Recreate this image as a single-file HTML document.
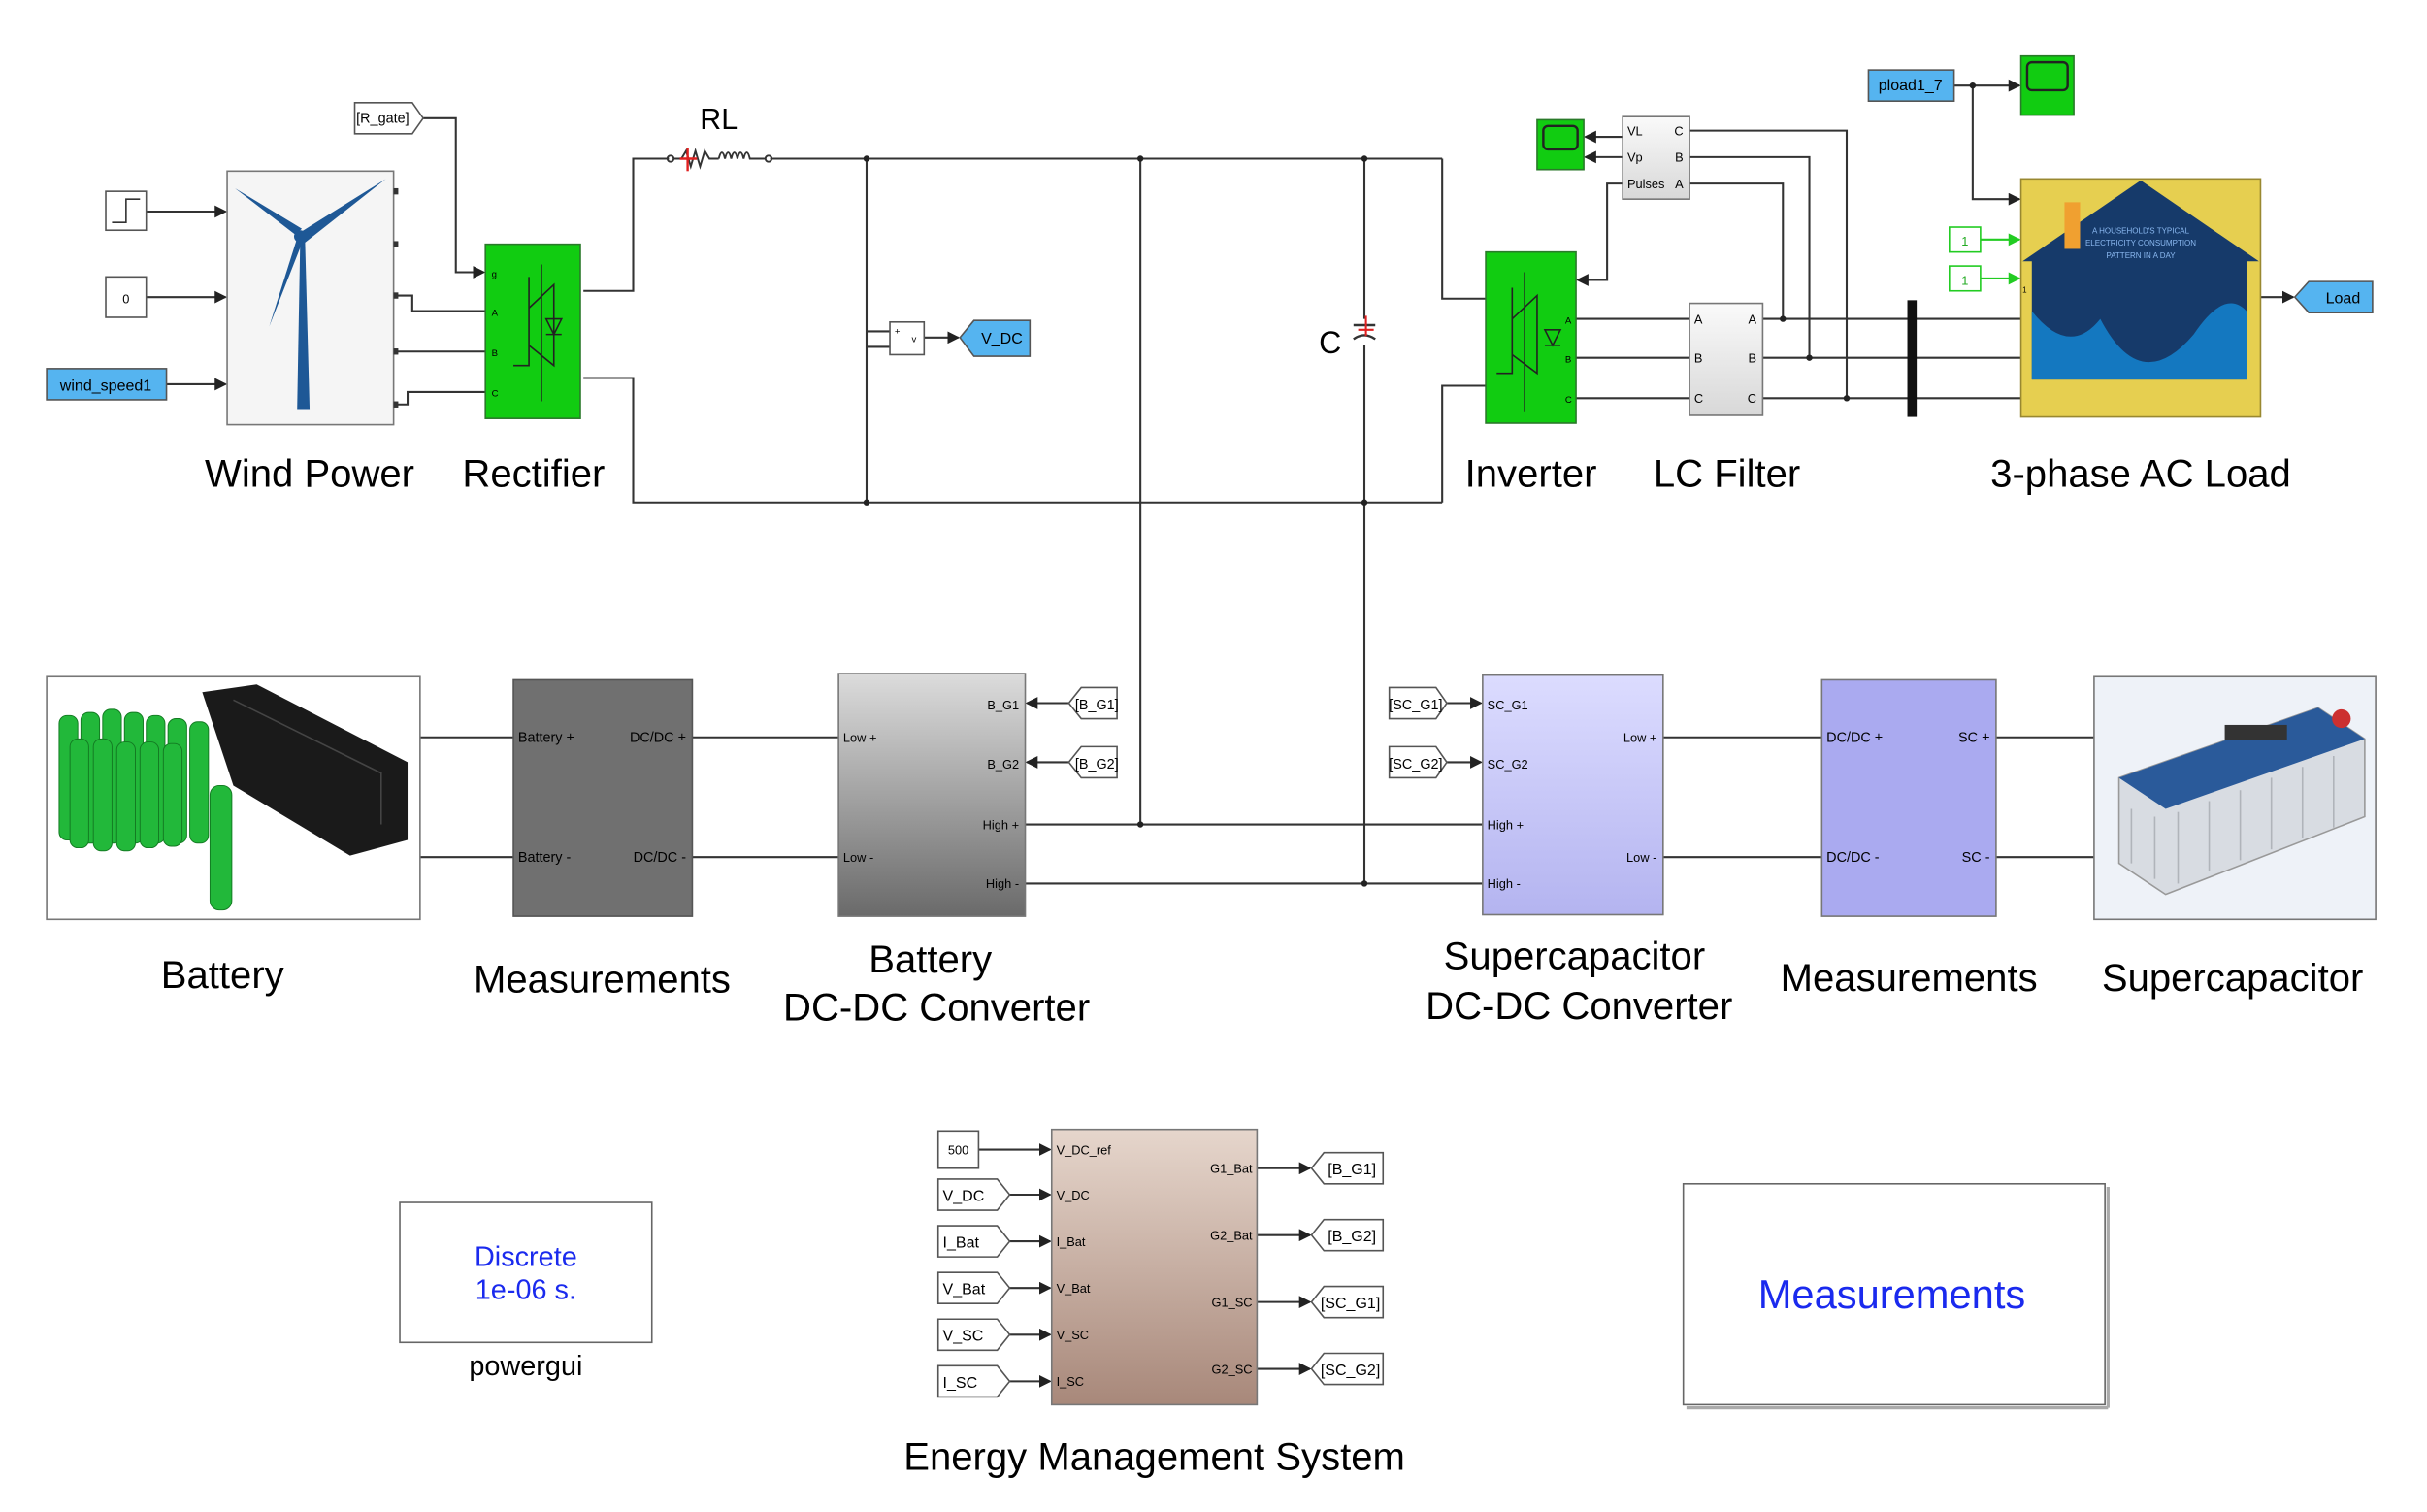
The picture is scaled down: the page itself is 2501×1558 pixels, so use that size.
<!DOCTYPE html>
<html><head><meta charset="utf-8"><style>
html,body{margin:0;padding:0;background:#fff;}
svg{display:block;}
text{font-family:"Liberation Sans",sans-serif;}
</style></head><body>
<svg width="2501" height="1558" viewBox="0 0 1560 972" preserveAspectRatio="none" xmlns="http://www.w3.org/2000/svg">
<defs>
<marker id="ar" markerWidth="8" markerHeight="8" refX="7" refY="4" orient="auto" markerUnits="userSpaceOnUse"><path d="M0,0 L8,4 L0,8 z" fill="#222"/></marker>
<marker id="arg" markerWidth="8" markerHeight="8" refX="7" refY="4" orient="auto" markerUnits="userSpaceOnUse"><path d="M0,0 L8,4 L0,8 z" fill="#22cc22"/></marker>
<linearGradient id="gBat" x1="0" y1="0" x2="0" y2="1"><stop offset="0" stop-color="#dcdcdc"/><stop offset="1" stop-color="#6a6a6a"/></linearGradient>
<linearGradient id="gSC" x1="0" y1="0" x2="0" y2="1"><stop offset="0" stop-color="#dcdcff"/><stop offset="1" stop-color="#b4b4f0"/></linearGradient>
<linearGradient id="gEMS" x1="0" y1="0" x2="0" y2="1"><stop offset="0" stop-color="#e6d6cc"/><stop offset="1" stop-color="#a8887a"/></linearGradient>
<linearGradient id="gLC" x1="0" y1="0" x2="0" y2="1"><stop offset="0" stop-color="#fafafa"/><stop offset="1" stop-color="#d8d8d8"/></linearGradient>
</defs>
<g stroke="#333" stroke-width="1.3" fill="none">
<!-- top inputs -->
<line x1="94" y1="136" x2="145" y2="136" marker-end="url(#ar)"/>
<line x1="94" y1="191" x2="145" y2="191" marker-end="url(#ar)"/>
<line x1="107" y1="247" x2="145" y2="247" marker-end="url(#ar)"/>
<polyline points="272,76 293,76 293,175 311,175" marker-end="url(#ar)"/>
<polyline points="255,190 265,190 265,200 312,200"/>
<line x1="255" y1="226" x2="312" y2="226"/>
<polyline points="255,260 262,260 262,252 312,252"/>
<polyline points="375,187 407,187 407,102 430,102"/>
<line x1="495" y1="102" x2="927" y2="102"/>
<polyline points="375,243 407,243 407,323 927,323"/>
<polyline points="927,102 927,192 955,192"/>
<polyline points="927,323 927,248 955,248"/>
<line x1="557" y1="102" x2="557" y2="323"/>
<polyline points="557,213 572,213"/>
<polyline points="557,223 572,223"/>
<line x1="594" y1="217" x2="616" y2="217" marker-end="url(#ar)"/>
<line x1="877" y1="102" x2="877" y2="205"/>
<line x1="877" y1="222" x2="877" y2="568"/>
<line x1="733" y1="102" x2="733" y2="530"/>
<!-- inverter / filter -->
<polyline points="1043,118 1033,118 1033,180 1014,180" marker-end="url(#ar)"/>
<line x1="1043" y1="88" x2="1019" y2="88" marker-end="url(#ar)"/>
<line x1="1043" y1="101" x2="1019" y2="101" marker-end="url(#ar)"/>
<line x1="1013" y1="205" x2="1086" y2="205"/>
<line x1="1013" y1="230" x2="1086" y2="230"/>
<line x1="1013" y1="256" x2="1086" y2="256"/>
<line x1="1133" y1="205" x2="1299" y2="205"/>
<line x1="1133" y1="230" x2="1299" y2="230"/>
<line x1="1133" y1="256" x2="1299" y2="256"/>
<polyline points="1086,84 1187,84 1187,256"/>
<polyline points="1086,101 1163,101 1163,230"/>
<polyline points="1086,118 1146,118 1146,205"/>
<line x1="1256" y1="55" x2="1298" y2="55" marker-end="url(#ar)"/>
<polyline points="1268,55 1268,128 1298,128" marker-end="url(#ar)"/>
<line x1="1453" y1="191" x2="1474" y2="191" marker-end="url(#ar)"/>
<!-- middle -->
<line x1="270" y1="474" x2="330" y2="474"/>
<line x1="270" y1="551" x2="330" y2="551"/>
<line x1="445" y1="474" x2="539" y2="474"/>
<line x1="445" y1="551" x2="539" y2="551"/>
<line x1="687" y1="452" x2="660" y2="452" marker-end="url(#ar)"/>
<line x1="687" y1="490" x2="660" y2="490" marker-end="url(#ar)"/>
<line x1="659" y1="530" x2="953" y2="530"/>
<line x1="659" y1="568" x2="953" y2="568"/>
<line x1="930" y1="452" x2="952" y2="452" marker-end="url(#ar)"/>
<line x1="930" y1="490" x2="952" y2="490" marker-end="url(#ar)"/>
<line x1="1069" y1="474" x2="1171" y2="474"/>
<line x1="1069" y1="551" x2="1171" y2="551"/>
<line x1="1283" y1="474" x2="1346" y2="474"/>
<line x1="1283" y1="551" x2="1346" y2="551"/>
<!-- EMS -->
<line x1="629" y1="739" x2="675" y2="739" marker-end="url(#ar)"/>
<line x1="649" y1="768" x2="675" y2="768" marker-end="url(#ar)"/>
<line x1="649" y1="798" x2="675" y2="798" marker-end="url(#ar)"/>
<line x1="649" y1="828" x2="675" y2="828" marker-end="url(#ar)"/>
<line x1="649" y1="858" x2="675" y2="858" marker-end="url(#ar)"/>
<line x1="649" y1="888" x2="675" y2="888" marker-end="url(#ar)"/>
<line x1="808" y1="751" x2="842" y2="751" marker-end="url(#ar)"/>
<line x1="808" y1="794" x2="842" y2="794" marker-end="url(#ar)"/>
<line x1="808" y1="837" x2="842" y2="837" marker-end="url(#ar)"/>
<line x1="808" y1="880" x2="842" y2="880" marker-end="url(#ar)"/>
</g>
<g stroke="#22cc22" stroke-width="1.3">
<line x1="1273" y1="154" x2="1298" y2="154" marker-end="url(#arg)"/>
<line x1="1273" y1="179" x2="1298" y2="179" marker-end="url(#arg)"/>
</g>
<!-- junction dots -->
<g fill="#222">
<circle cx="557" cy="102" r="2"/><circle cx="733" cy="102" r="2"/><circle cx="877" cy="102" r="2"/>
<circle cx="557" cy="323" r="2"/><circle cx="877" cy="323" r="2"/>
<circle cx="733" cy="530" r="2"/><circle cx="877" cy="568" r="2"/>
<circle cx="1146" cy="205" r="2"/><circle cx="1163" cy="230" r="2"/><circle cx="1187" cy="256" r="2"/>
<circle cx="1268" cy="55" r="2"/>
</g>
<!-- RL -->
<g stroke="#333" stroke-width="1.2" fill="none">
<circle cx="431" cy="102" r="2"/><circle cx="494" cy="102" r="2"/>
<polyline points="433,102 438,102 441,97 444,107 447,97 450,107 453,97 456,102 462,102"/>
<path d="M462,102 q2,-8 4,0 q2,-8 4,0 q2,-8 4,0 q2,-8 4,0 q2,-8 4,0 l10,0"/>
</g>
<line x1="442" y1="95" x2="442" y2="110" stroke="#e02020" stroke-width="1.5"/>
<line x1="437" y1="102" x2="448" y2="102" stroke="#e02020" stroke-width="1.5"/>
<text x="462" y="83" font-size="19" text-anchor="middle">RL</text>
<!-- capacitor -->
<g stroke="#333" stroke-width="1.5"><line x1="870" y1="209" x2="884" y2="209"/></g>
<path d="M870,218 q7,-5 14,0" stroke="#333" stroke-width="1.5" fill="none"/>
<line x1="878" y1="203" x2="878" y2="216" stroke="#e02020" stroke-width="1.3"/>
<line x1="873" y1="212" x2="883" y2="212" stroke="#e02020" stroke-width="1.3"/>
<text x="855" y="227" font-size="20" text-anchor="middle">C</text>
<!-- step / const -->
<rect x="68" y="123" width="26" height="25" fill="#fff" stroke="#555"/>
<polyline points="72,143 81,143 81,128 90,128" stroke="#333" fill="none"/>
<rect x="68" y="178" width="26" height="26" fill="#fff" stroke="#555"/>
<text x="81" y="195" font-size="8" text-anchor="middle">0</text>
<rect x="30" y="237" width="77" height="20" fill="#55b4f0" stroke="#555"/>
<text x="68" y="251" font-size="10" text-anchor="middle">wind_speed1</text>
<!-- wind turbine -->
<rect x="146" y="110" width="107" height="163" fill="#f5f5f5" stroke="#777"/>
<g fill="#1e5896">
<path d="M193,152 L191,263 L199,263 L196,152 z"/>
<path d="M192,150 L248,115 L196,156 z"/>
<path d="M190,151 L151,121 L194,147 z"/>
<path d="M191,153 L173,210 L195,154 z"/>
<circle cx="193" cy="152" r="4"/>
</g>
<g fill="#333"><rect x="253" y="121" width="3" height="4"/><rect x="253" y="155" width="3" height="4"/><rect x="253" y="188" width="3" height="4"/><rect x="253" y="224" width="3" height="4"/><rect x="253" y="258" width="3" height="4"/></g>
<path d="M228,66 L265,66 L272,76 L265,86 L228,86 z" fill="#fff" stroke="#555"/>
<text x="246" y="79" font-size="9" text-anchor="middle">[R_gate]</text>
<!-- rectifier -->
<rect x="312" y="157" width="61" height="112" fill="#11cc11" stroke="#2a7a2a"/>
<g stroke="#222" fill="none" stroke-width="1">
<line x1="348" y1="170" x2="348" y2="258"/>
<polyline points="340,178 340,235 330,235"/>
<polyline points="340,198 356,183 356,235 340,222"/>
<path d="M351,205 L361,205 L356,215 z M351,215 L361,215"/>
</g>
<text x="316" y="178" font-size="6">g</text><text x="316" y="203" font-size="6">A</text><text x="316" y="229" font-size="6">B</text><text x="316" y="255" font-size="6">C</text>
<!-- V meas -->
<rect x="572" y="207" width="22" height="21" fill="#fff" stroke="#555"/>
<text x="575" y="215" font-size="6">+</text><text x="586" y="220" font-size="6">v</text>
<path d="M617,217 L626,206 L662,206 L662,229 L626,229 z" fill="#55b4f0" stroke="#555"/>
<text x="644" y="221" font-size="10" text-anchor="middle">V_DC</text>
<!-- inverter -->
<rect x="955" y="162" width="58" height="110" fill="#11cc11" stroke="#2a7a2a"/>
<g stroke="#222" fill="none" stroke-width="1">
<line x1="980" y1="175" x2="980" y2="265"/>
<polyline points="972,185 972,240 962,240"/>
<polyline points="972,205 988,190 988,240 972,228"/>
<path d="M993,212 L1003,212 L998,222 z M993,222 L1003,222"/>
</g>
<text x="1006" y="208" font-size="6">A</text><text x="1006" y="233" font-size="6">B</text><text x="1006" y="259" font-size="6">C</text>
<!-- meas block -->
<rect x="1043" y="75" width="43" height="53" fill="url(#gLC)" stroke="#777"/>
<text x="1046" y="87" font-size="8">VL</text><text x="1046" y="104" font-size="8">Vp</text><text x="1046" y="121" font-size="8">Pulses</text>
<text x="1082" y="87" font-size="8" text-anchor="end">C</text><text x="1082" y="104" font-size="8" text-anchor="end">B</text><text x="1082" y="121" font-size="8" text-anchor="end">A</text>
<rect x="988" y="77" width="30" height="32" fill="#11cc11" stroke="#2a7a2a"/>
<rect x="992" y="81" width="22" height="15" rx="3" fill="#11cc11" stroke="#222" stroke-width="1.5"/>
<!-- LC filter -->
<rect x="1086" y="195" width="47" height="72" fill="url(#gLC)" stroke="#777"/>
<text x="1089" y="208" font-size="8">A</text><text x="1089" y="233" font-size="8">B</text><text x="1089" y="259" font-size="8">C</text>
<text x="1129" y="208" font-size="8" text-anchor="end">A</text><text x="1129" y="233" font-size="8" text-anchor="end">B</text><text x="1129" y="259" font-size="8" text-anchor="end">C</text>
<rect x="1226" y="193" width="6" height="75" fill="#111"/>
<!-- pload -->
<rect x="1201" y="45" width="55" height="20" fill="#55b4f0" stroke="#555"/>
<text x="1228" y="58" font-size="10" text-anchor="middle">pload1_7</text>
<rect x="1299" y="36" width="34" height="38" fill="#11cc11" stroke="#2a7a2a"/>
<rect x="1303" y="40" width="26" height="18" rx="3" fill="#11cc11" stroke="#222" stroke-width="1.5"/>
<rect x="1253" y="146" width="20" height="16" fill="#fff" stroke="#22cc22"/><text x="1263" y="158" font-size="8" text-anchor="middle" fill="#22aa22">1</text>
<rect x="1253" y="171" width="20" height="16" fill="#fff" stroke="#22cc22"/><text x="1263" y="183" font-size="8" text-anchor="middle" fill="#22aa22">1</text>
<!-- load -->
<rect x="1299" y="115" width="154" height="153" fill="#e6cf50" stroke="#998830"/>
<path d="M1376,116 L1452,168 L1444,168 L1444,244 L1306,244 L1306,168 L1300,168 z" fill="#163a6a"/>
<path d="M1306,200 Q1330,230 1350,205 Q1376,255 1410,215 Q1430,185 1444,200 L1444,244 L1306,244 z" fill="#1478c0"/>
<rect x="1327" y="130" width="10" height="30" fill="#f0a030"/>
<text x="1376" y="150" font-size="5" fill="#8ab8f0" text-anchor="middle">A HOUSEHOLD'S TYPICAL</text>
<text x="1376" y="158" font-size="5" fill="#8ab8f0" text-anchor="middle">ELECTRICITY CONSUMPTION</text>
<text x="1376" y="166" font-size="5" fill="#8ab8f0" text-anchor="middle">PATTERN IN A DAY</text>
<text x="1300" y="188" font-size="5">1</text>
<path d="M1475,191 L1484,181 L1525,181 L1525,201 L1484,201 z" fill="#55b4f0" stroke="#555"/>
<text x="1506" y="195" font-size="10" text-anchor="middle">Load</text>
<!-- top labels -->
<g font-size="25" text-anchor="middle">
<text x="199" y="313">Wind Power</text>
<text x="343" y="313">Rectifier</text>
<text x="984" y="313">Inverter</text>
<text x="1110" y="313">LC Filter</text>
<text x="1376" y="313">3-phase AC Load</text>
</g>
<!-- battery image -->
<rect x="30" y="435" width="240" height="156" fill="#fff" stroke="#777"/>
<g fill="#22b83a" stroke="#137a22" stroke-width="0.6">
<rect x="38" y="460" width="12" height="80" rx="5"/><rect x="52" y="458" width="12" height="84" rx="5"/><rect x="66" y="456" width="12" height="86" rx="5"/><rect x="80" y="458" width="12" height="84" rx="5"/><rect x="94" y="460" width="12" height="82" rx="5"/><rect x="108" y="462" width="12" height="80" rx="5"/><rect x="122" y="464" width="12" height="78" rx="5"/>
<rect x="45" y="475" width="12" height="70" rx="5"/><rect x="60" y="475" width="12" height="72" rx="5"/><rect x="75" y="477" width="12" height="70" rx="5"/><rect x="90" y="477" width="12" height="68" rx="5"/><rect x="105" y="478" width="12" height="66" rx="5"/>
<rect x="135" y="505" width="14" height="80" rx="6"/>
</g>
<path d="M130,445 L165,440 L262,490 L262,540 L225,550 L150,505 z" fill="#1a1a1a"/>
<path d="M150,450 L245,497 L245,530" stroke="#444" fill="none"/>
<!-- measurements battery -->
<rect x="330" y="437" width="115" height="152" fill="#707070" stroke="#555"/>
<text x="333" y="477" font-size="9">Battery +</text><text x="333" y="554" font-size="9">Battery -</text>
<text x="441" y="477" font-size="9" text-anchor="end">DC/DC +</text><text x="441" y="554" font-size="9" text-anchor="end">DC/DC -</text>
<!-- battery dcdc -->
<rect x="539" y="433" width="120" height="156" fill="url(#gBat)" stroke="#777"/>
<g font-size="8"><text x="542" y="477">Low +</text><text x="542" y="554">Low -</text>
<text x="655" y="456" text-anchor="end">B_G1</text><text x="655" y="494" text-anchor="end">B_G2</text><text x="655" y="533" text-anchor="end">High +</text><text x="655" y="571" text-anchor="end">High -</text></g>
<path d="M687,452 L695,442 L718,442 L718,462 L695,462 z" fill="#fff" stroke="#555"/><text x="705" y="456" font-size="9" text-anchor="middle">[B_G1]</text>
<path d="M687,490 L695,480 L718,480 L718,500 L695,500 z" fill="#fff" stroke="#555"/><text x="705" y="494" font-size="9" text-anchor="middle">[B_G2]</text>
<!-- SC dcdc -->
<path d="M893,442 L923,442 L930,452 L923,462 L893,462 z" fill="#fff" stroke="#555"/><text x="910" y="456" font-size="9" text-anchor="middle">[SC_G1]</text>
<path d="M893,480 L923,480 L930,490 L923,500 L893,500 z" fill="#fff" stroke="#555"/><text x="910" y="494" font-size="9" text-anchor="middle">[SC_G2]</text>
<rect x="953" y="434" width="116" height="154" fill="url(#gSC)" stroke="#777"/>
<g font-size="8"><text x="956" y="456">SC_G1</text><text x="956" y="494">SC_G2</text><text x="956" y="533">High +</text><text x="956" y="571">High -</text>
<text x="1065" y="477" text-anchor="end">Low +</text><text x="1065" y="554" text-anchor="end">Low -</text></g>
<rect x="1171" y="437" width="112" height="152" fill="#aaaaf0" stroke="#777"/>
<g font-size="9"><text x="1174" y="477">DC/DC +</text><text x="1174" y="554">DC/DC -</text>
<text x="1279" y="477" text-anchor="end">SC +</text><text x="1279" y="554" text-anchor="end">SC -</text></g>
<!-- supercap image -->
<rect x="1346" y="435" width="181" height="156" fill="#eef2f8" stroke="#777"/>
<path d="M1362,500 L1490,455 L1520,475 L1520,525 L1392,575 L1362,555 z" fill="#d8dce2" stroke="#999"/>
<path d="M1362,500 L1490,455 L1520,475 L1392,520 z" fill="#2a5a9a"/>
<g stroke="#b0b4ba"><line x1="1370" y1="520" x2="1370" y2="555"/><line x1="1385" y1="525" x2="1385" y2="565"/><line x1="1400" y1="522" x2="1400" y2="568"/><line x1="1420" y1="515" x2="1420" y2="560"/><line x1="1440" y1="508" x2="1440" y2="553"/><line x1="1460" y1="500" x2="1460" y2="546"/><line x1="1480" y1="493" x2="1480" y2="539"/><line x1="1500" y1="486" x2="1500" y2="532"/></g>
<circle cx="1505" cy="462" r="6" fill="#cc3030"/><rect x="1430" y="466" width="40" height="10" fill="#333"/>
<!-- middle labels -->
<g font-size="25" text-anchor="middle">
<text x="143" y="635">Battery</text>
<text x="387" y="638">Measurements</text>
<text x="598" y="625">Battery</text>
<text x="602" y="656">DC-DC Converter</text>
<text x="1012" y="623">Supercapacitor</text>
<text x="1015" y="655">DC-DC Converter</text>
<text x="1227" y="637">Measurements</text>
<text x="1435" y="637">Supercapacitor</text>
</g>
<!-- powergui -->
<rect x="257" y="773" width="162" height="90" fill="#fff" stroke="#666"/>
<text x="338" y="814" font-size="18" fill="#1a2aee" text-anchor="middle">Discrete</text>
<text x="338" y="835" font-size="18" fill="#1a2aee" text-anchor="middle">1e-06 s.</text>
<text x="338" y="884" font-size="18" text-anchor="middle">powergui</text>
<!-- EMS -->
<rect x="603" y="727" width="26" height="24" fill="#fff" stroke="#555"/><text x="616" y="742" font-size="8" text-anchor="middle">500</text>
<g fill="#fff" stroke="#555">
<path d="M603,758 L641,758 L649,768 L641,778 L603,778 z"/>
<path d="M603,788 L641,788 L649,798 L641,808 L603,808 z"/>
<path d="M603,818 L641,818 L649,828 L641,838 L603,838 z"/>
<path d="M603,848 L641,848 L649,858 L641,868 L603,868 z"/>
<path d="M603,878 L641,878 L649,888 L641,898 L603,898 z"/>
<path d="M843,751 L851,741 L889,741 L889,761 L851,761 z"/>
<path d="M843,794 L851,784 L889,784 L889,804 L851,804 z"/>
<path d="M843,837 L851,827 L889,827 L889,847 L851,847 z"/>
<path d="M843,880 L851,870 L889,870 L889,890 L851,890 z"/>
</g>
<g font-size="10"><text x="606" y="772">V_DC</text><text x="606" y="802">I_Bat</text><text x="606" y="832">V_Bat</text><text x="606" y="862">V_SC</text><text x="606" y="892">I_SC</text>
<text x="869" y="755" text-anchor="middle">[B_G1]</text><text x="869" y="798" text-anchor="middle">[B_G2]</text><text x="868" y="841" text-anchor="middle">[SC_G1]</text><text x="868" y="884" text-anchor="middle">[SC_G2]</text></g>
<rect x="676" y="726" width="132" height="177" fill="url(#gEMS)" stroke="#777"/>
<g font-size="8"><text x="679" y="742">V_DC_ref</text><text x="679" y="771">V_DC</text><text x="679" y="801">I_Bat</text><text x="679" y="831">V_Bat</text><text x="679" y="861">V_SC</text><text x="679" y="891">I_SC</text>
<text x="805" y="754" text-anchor="end">G1_Bat</text><text x="805" y="797" text-anchor="end">G2_Bat</text><text x="805" y="840" text-anchor="end">G1_SC</text><text x="805" y="883" text-anchor="end">G2_SC</text></g>
<text x="742" y="945" font-size="25" text-anchor="middle">Energy Management System</text>
<!-- Measurements box -->
<rect x="1082" y="761" width="271" height="142" fill="#fff" stroke="#666"/>
<line x1="1355" y1="763" x2="1355" y2="905" stroke="#aaa" stroke-width="2"/>
<line x1="1084" y1="905" x2="1355" y2="905" stroke="#aaa" stroke-width="2"/>
<text x="1216" y="841" font-size="26" fill="#1a2aee" text-anchor="middle">Measurements</text>
</svg>
</body></html>
